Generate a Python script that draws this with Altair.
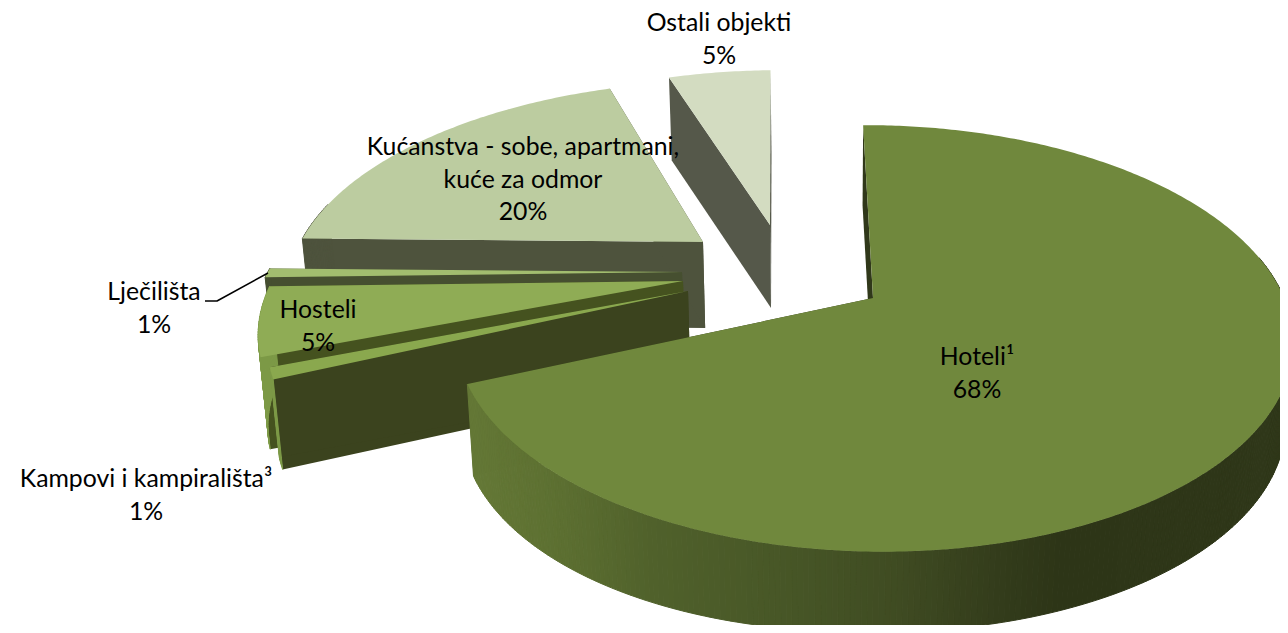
import math
import altair as alt

names = ["Ostali objekti", "Kućanstva", "Lječilišta", "Hosteli", "Kampovi", "Hoteli"]
shares = [4.9, 19.4, 0.7, 5.3, 0.9, 68.8]
apex = [(770, 225), (703, 242), (682, 272), (683, 281), (688, 291), (873, 298)]
radius = [1.02, 1.03, 1.03, 1.013, 0.995, 0.998]
depth_near = [83, 86, 86, 92, 90, 92]
depth_far = [83, 86, 86, 92, 90, 80]
top_col = ["#d3dcc1", "#bccca0", "#a2bd6f", "#8fac55", "#8aa84e", "#70883d"]
face_col = ["#55584a", "#4e533d", "#464f30", "#45521f", "#3b431e", "#30381a"]
wall_col = ["#55584a", "#4e533d", "#464f30", "#7d9a47", "#7d9a47", None]
wall_stops = [(470, "#647836"), (560, "#5c6f31"), (650, "#50612b"), (800, "#465526"),
              (900, "#3f4b22"), (1000, "#333c1b"), (1060, "#2d3517"), (1300, "#2f3719")]

label_text = [["Ostali objekti", "5%"], ["Kućanstva - sobe, apartmani,", "kuće za odmor", "20%"],
              ["Lječilišta", "1%"], ["Hosteli", "5%"], ["Kampovi i kampirališta³", "1%"], ["Hoteli¹", "68%"]]
label_pos = [(719, 24), (523, 148), (154, 293), (318, 311), (146, 480), (977, 358)]
line_gap = 32.5

leader = [(205, 301), (217, 301), (268, 273)]

VX, CX, CY, R, RT, K, BOTTOM = 830, 873, 298, 412, 206, 0.19, 0.983
OSTALI_END, HOTELI_START = 358.5, -0.5


def proj(X, Y):
    s = 1 / (1 + K * Y)
    return (VX + (CX - VX + R * X) * s, CY - RT * Y * s)


def unproj(px, py):
    a = (CY - py) / RT
    Y = a / (1 - K * a)
    s = 1 / (1 + K * Y)
    return ((px - VX) / s - (CX - VX)) / R, Y


def down(p, i):
    f = min(max((p[0] - 470) / 400, 0), 1)
    d = depth_near[i] + (depth_far[i] - depth_near[i]) * f
    return (VX + (p[0] - VX) * BOTTOM, p[1] + d)


def hex2(c):
    return [int(c[i:i + 2], 16) for i in (1, 3, 5)]


def wall_color(x):
    stops = wall_stops
    if x <= stops[0][0]:
        return stops[0][1]
    for (a, ca), (b, cb) in zip(stops, stops[1:]):
        if x <= b:
            f = (x - a) / (b - a)
            mix = [round(u + (v - u) * f) for u, v in zip(hex2(ca), hex2(cb))]
            return "#%02x%02x%02x" % tuple(mix)
    return stops[-1][1]


feats = []


def add(points, fill, stroke=None):
    ring = [list(p) for p in points] + [list(points[0])]
    feats.append({"type": "Feature", "geometry": {"type": "Polygon", "coordinates": [ring]},
                  "properties": {"fill": fill, "stroke": stroke or fill, "sw": 1.0 if stroke else 0}})


edges = []
cur = OSTALI_END
for sh in shares[:-1]:
    edges.append((cur - sh * 3.6, cur))
    cur -= sh * 3.6
edges.append((HOTELI_START, HOTELI_START + shares[-1] * 3.6))

for i, (t0, t1) in enumerate(edges):
    X0, Y0 = unproj(*apex[i])
    n = max(4, int(abs(t1 - t0) * 1.5))
    r = radius[i]
    arc = []
    for j in range(n + 1):
        t = math.radians(t0 + (t1 - t0) * j / n)
        arc.append(proj(X0 + r * math.sin(t), Y0 + r * math.cos(t)))
    a = proj(X0, Y0)
    for end_pt in (arc[0], arc[-1]):
        add([a, end_pt, down(end_pt, i), down(a, i)], face_col[i])
    for j in range(n):
        tm = t0 + (t1 - t0) * (j + 0.5) / n
        if math.cos(math.radians(tm)) < 0.2:
            mx = (arc[j][0] + arc[j + 1][0]) / 2
            c = wall_color(mx) if wall_col[i] is None else wall_col[i]
            add([arc[j], arc[j + 1], down(arc[j + 1], i), down(arc[j], i)], c, c)
    add([a] + arc, top_col[i])

feats.append({"type": "Feature", "geometry": {"type": "LineString", "coordinates": [list(p) for p in leader]},
              "properties": {"fill": "none", "stroke": "#000000", "sw": 1.5}})

shapes = alt.Chart(alt.Data(values=feats)).mark_geoshape(strokeJoin="round").encode(
    fill=alt.Fill("properties.fill:N", scale=None),
    stroke=alt.Stroke("properties.stroke:N", scale=None),
    strokeWidth=alt.StrokeWidth("properties.sw:Q", scale=None),
)

rows = []
for lines, (x, y) in zip(label_text, label_pos):
    for n, t in enumerate(lines):
        rows.append({"t": t, "lon": x, "lat": y + n * line_gap})

texts = alt.Chart(alt.Data(values=rows)).mark_text(
    font="Lato", fontSize=24.8, color="#000000", align="center", baseline="middle"
).encode(longitude="lon:Q", latitude="lat:Q", text="t:N")

chart = alt.layer(shapes, texts).project(
    type="identity", scale=1, translate=[-8, -8]
).properties(width=1272, height=617, padding=0,
             autosize=alt.AutoSizeParams(type="none"), background="#ffffff").configure_view(stroke=None)

chart.save("out.html", embed_options={"renderer": "svg", "actions": False})
